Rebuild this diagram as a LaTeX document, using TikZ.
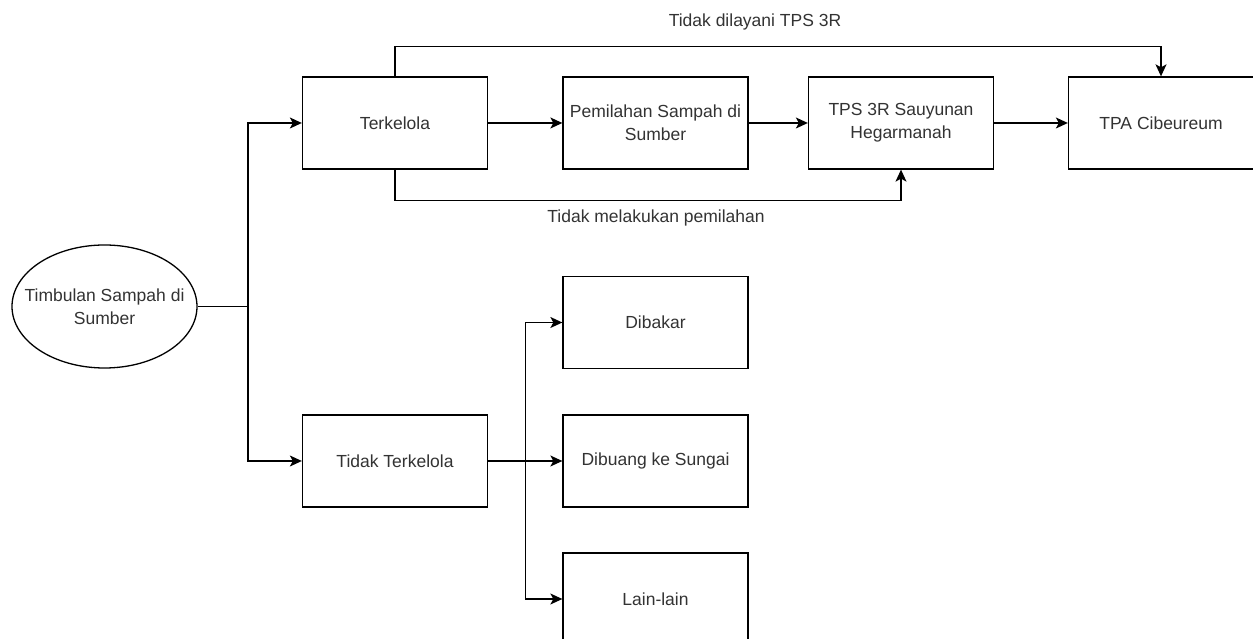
\documentclass[tikz,border=0pt]{standalone}
\usepackage{fontspec}
\setmainfont{Liberation Sans}
\usetikzlibrary{arrows.meta,shapes.geometric}
\definecolor{teks}{HTML}{333333}
\begin{document}
\begin{tikzpicture}[x=1pt, y=1pt,
	every node/.style={font=\fontsize{17.5}{23}\selectfont, text=teks},
	kotak/.style={draw, line width=1.3pt, fill=white, minimum width=185pt, minimum height=92pt, align=center, inner sep=1pt},
	arr/.style={line width=1.3pt, -{Stealth[length=12pt, width=11pt, inset=3pt]}},
	garis/.style={line width=1.3pt}]
	\useasboundingbox (0,0) rectangle (1253,639);
	% sumber
	\node[draw, ellipse, line width=1.3pt, minimum width=185pt, minimum height=123pt, inner sep=0pt] (timbulan) at (104.5,332.5) {};
	\node[align=center] (lbltimbulan) at (timbulan.center) {Timbulan Sampah di\\Sumber};
	% baris atas
	\node[kotak] (terkelola) at (395,516) {Terkelola};
	\node[kotak] (pemilahan) at (655.5,516) {Pemilahan Sampah di\\Sumber};
	\node[kotak] (tps) at (901,516) {TPS 3R Sauyunan\\Hegarmanah};
	\node[kotak] (tpa) at (1161,516) {TPA Cibeureum};
	% baris bawah
	\node[kotak] (tdkterkelola) at (395,178) {Tidak Terkelola};
	\node[kotak] (dibakar) at (655.5,316.5) {Dibakar};
	\node[kotak] (dibuang) at (655.5,178) {Dibuang ke Sungai};
	\node[kotak] (lain) at (655.5,40) {Lain-lain};
	% cabang
	\coordinate (split) at (248,332.5);
	\coordinate (branch) at (525.7,178);
	\draw[garis] (timbulan.east) -- (split);
	\draw[arr] (split) |- (terkelola.west);
	\draw[arr] (split) |- (tdkterkelola.west);
	\draw[arr] (terkelola) -- (pemilahan);
	\draw[arr] (pemilahan) -- (tps);
	\draw[arr] (tps) -- (tpa);
	\draw[arr] (terkelola.north) -- ++(0,30) -| (tpa.north);
	\draw[arr] (terkelola.south) -- ++(0,-31) -| (tps.south);
	\node (lblatas) at (755,617) {Tidak dilayani TPS 3R};
	\node (lblbawah) at (656,421) {Tidak melakukan pemilahan};
	\draw[arr] (tdkterkelola) -- (dibuang);
	\draw[arr] (branch) |- (dibakar.west);
	\draw[arr] (branch) |- (lain.west);
\end{tikzpicture}
\end{document}
